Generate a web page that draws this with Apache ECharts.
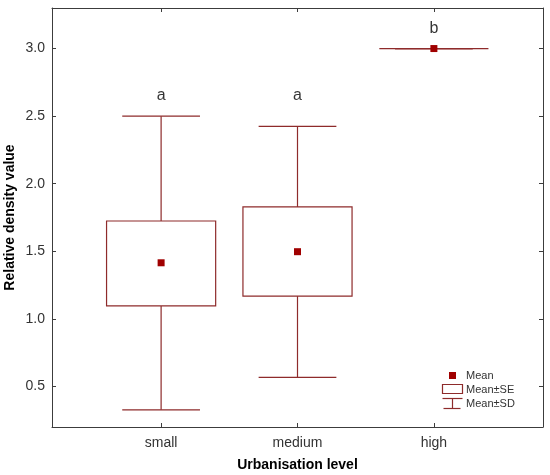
<!DOCTYPE html>
<html>
<head>
<meta charset="utf-8">
<script src="https://cdn.jsdelivr.net/npm/echarts@6/dist/echarts.min.js"></script>
<style>
html, body { margin: 0; padding: 0; background: #fff; }
#chart { width: 550px; height: 475px; }
</style>
</head>
<body>
<div id="chart"></div>
<script>
// data
var categories = ['small', 'medium', 'high'];
var means  = [1.415, 1.497, 3.0];
var seLow  = [1.096, 1.168, 3.0];
var seHigh = [1.724, 1.828, 3.0];
var sdLow  = [0.327, 0.567, 3.0];
var sdHigh = [2.500, 2.424, 3.0];
var letters = ['a', 'a', 'b'];
var letterY = [2.655, 2.655, 3.145];

var lineColor = '#8e2b2b';
var markColor = '#a00000';
var frameColor = '#3c3c3c';
var font = 'Liberation Sans, Arial, sans-serif';

var boxData = categories.map(function (c, i) {
	return [i + 1, means[i], seLow[i], seHigh[i], sdLow[i], sdHigh[i]];
});
var meanData = categories.map(function (c, i) { return [i + 1, means[i]]; });
var letterData = categories.map(function (c, i) { return [i + 1, letterY[i], letters[i]]; });

//box + whiskers
function renderBox(params, api) {
	var x = api.value(0);
	var pLo = api.coord([x, api.value(2)]);
	var pHi = api.coord([x, api.value(3)]);
	var pSdLo = api.coord([x, api.value(4)]);
	var pSdHi = api.coord([x, api.value(5)]);
	var boxW = api.size([0.8, 0])[0];
	var capW = api.size([0.57, 0])[0];
	var st = { stroke: lineColor, lineWidth: 1.2, fill: null };
	function line(x1, y1, x2, y2) {
		return { type: 'line', shape: { x1: x1, y1: y1, x2: x2, y2: y2 }, style: st };
	}
	var cx = pLo[0];
	return {
		type: 'group',
		children: [
			line(cx, pHi[1], cx, pSdHi[1]),
			line(cx, pLo[1], cx, pSdLo[1]),
			line(cx - capW / 2, pSdHi[1], cx + capW / 2, pSdHi[1]),
			line(cx - capW / 2, pSdLo[1], cx + capW / 2, pSdLo[1]),
			{ type: 'rect', shape: { x: cx - boxW / 2, y: pHi[1], width: boxW, height: pLo[1] - pHi[1] }, style: st }
		]
	};
}

var xBase = {
	type: 'value', min: 0.2, max: 3.8, splitNumber: 3,
	axisLine: { show: true, lineStyle: { color: frameColor, width: 1 } },
	axisTick: { show: true, inside: true, length: 4, lineStyle: { color: frameColor } },
	splitLine: { show: false }
};
var yBase = {
	type: 'value', min: 0.2, max: 3.3, splitNumber: 6,
	axisLine: { show: true, lineStyle: { color: frameColor, width: 1 } },
	axisTick: { show: true, inside: true, length: 4, lineStyle: { color: frameColor } },
	splitLine: { show: false }
};

var chart = echarts.init(document.getElementById('chart'));
chart.setOption({
	animation: false,
	backgroundColor: '#fff',
	grid: { left: 52, right: 7, top: 8, bottom: 48, containLabel: false, outerBoundsMode: 'none' },
	xAxis: [
		Object.assign({}, xBase, {
			position: 'bottom',
			name: 'Urbanisation level', nameLocation: 'middle', nameGap: 31,
			nameTextStyle: { fontFamily: font, fontSize: 14, fontWeight: 'bold', color: '#000' },
			axisLabel: {
				margin: 9, fontFamily: font, fontSize: 14, color: '#333',
				showMinLabel: false, showMaxLabel: false,
				formatter: function (v) { return categories[v - 1] || ''; }
			}
		}),
		Object.assign({}, xBase, { position: 'top', axisLabel: { show: false } })
	],
	yAxis: [
		Object.assign({}, yBase, {
			position: 'left',
			name: 'Relative density value', nameLocation: 'middle', nameGap: 35,
			nameMoveOverlap: false,
			nameTextStyle: { fontFamily: font, fontSize: 14, fontWeight: 'bold', color: '#000' },
			axisLabel: {
				margin: 7, fontFamily: font, fontSize: 14, color: '#333',
				showMinLabel: false, showMaxLabel: false,
				formatter: function (v) { return (Math.abs(v * 2 - Math.round(v * 2)) < 1e-6) ? v.toFixed(1) : ''; }
			}
		}),
		Object.assign({}, yBase, { position: 'right', axisLabel: { show: false } })
	],
	series: [
		{
			name: 'Mean±SD', type: 'custom', renderItem: renderBox,
			data: boxData, encode: { x: 0, y: [2, 3, 4, 5] }, z: 2
		},
		{
			name: 'Mean', type: 'scatter', data: meanData,
			symbol: 'rect', symbolSize: 7,
			itemStyle: { color: markColor, opacity: 1 }, z: 3
		},
		{
			name: 'letters', type: 'scatter', data: letterData,
			symbolSize: 0,
			label: {
				show: true, position: 'inside', fontFamily: font, fontSize: 16, color: '#000',
				formatter: function (p) { return p.data[2]; }
			}
		}
	],
	//legend box (bottom right)
	graphic: [{
		type: 'group', left: 440, top: 370,
		children: [
			{ type: 'rect', shape: { x: 7, y: 1, width: 7, height: 7 }, style: { fill: markColor } },
			{ type: 'text', x: 24, y: 4.5, style: { text: 'Mean', font: '11px ' + font, fill: '#333', verticalAlign: 'middle' } },
			{ type: 'rect', shape: { x: 0.5, y: 13.5, width: 20, height: 9 }, style: { fill: '#fff', stroke: lineColor, lineWidth: 1.2 } },
			{ type: 'text', x: 24, y: 18.5, style: { text: 'Mean±SE', font: '11px ' + font, fill: '#333', verticalAlign: 'middle' } },
			{ type: 'polyline', shape: { points: [[0.5, 27.5], [20.5, 27.5]] }, style: { stroke: lineColor, lineWidth: 1.2, fill: null } },
			{ type: 'polyline', shape: { points: [[10.5, 27.5], [10.5, 37.5]] }, style: { stroke: lineColor, lineWidth: 1.2, fill: null } },
			{ type: 'polyline', shape: { points: [[1.5, 37.5], [18.5, 37.5]] }, style: { stroke: lineColor, lineWidth: 1.2, fill: null } },
			{ type: 'text', x: 24, y: 32.5, style: { text: 'Mean±SD', font: '11px ' + font, fill: '#333', verticalAlign: 'middle' } }
		]
	}]
});
</script>
</body>
</html>
